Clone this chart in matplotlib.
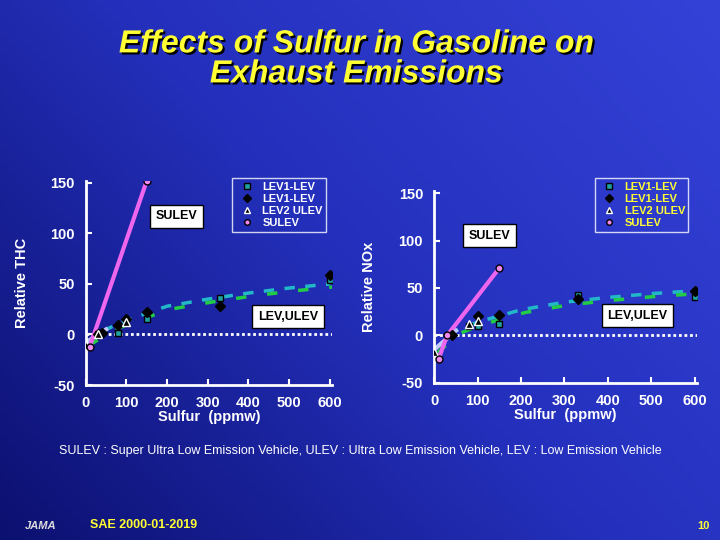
import numpy as np
import matplotlib
matplotlib.use("Agg")
import matplotlib.pyplot as plt
from matplotlib.colors import LinearSegmentedColormap
import matplotlib.patheffects as pe

plt.rcParams['font.family'] = ['Liberation Sans', 'DejaVu Sans']
plt.rcParams['axes.unicode_minus'] = False

# ---- data ----
# Relative THC
thc_sq_x = [30, 80, 150, 330, 600]
thc_sq_y = [0, 1, 15, 36, 54]
thc_dm_x = [30, 40, 80, 100, 150, 330, 600]
thc_dm_y = [0, 1, 9, 15, 22, 28, 59]
thc_tr_x = [0, 30, 100]
thc_tr_y = [-10, 0, 12]
thc_su_x = [10, 150]
thc_su_y = [-12, 152]
thc_trend_x = [0, 50, 100, 200, 300, 400, 500, 600]
thc_trend_y = [-8, 5, 14, 28, 35, 41, 46, 50]

# Relative NOx
nox_sq_x = [80, 100, 150, 330, 600]
nox_sq_y = [10, 10, 12, 43, 41]
nox_dm_x = [40, 100, 150, 330, 600]
nox_dm_y = [0, 20, 21, 38, 47]
nox_tr_x = [0, 80, 100]
nox_tr_y = [-17, 12, 15]
nox_su_x = [10, 30, 150]
nox_su_y = [-25, 0, 71]
nox_trend_x = [0, 50, 100, 200, 300, 400, 500, 600]
nox_trend_y = [-15, 5, 14, 27, 35, 40, 44, 47]

xticks = [0, 100, 200, 300, 400, 500, 600]
yticks = [-50, 0, 50, 100, 150]
legend_labels = ["LEV1-LEV", "LEV1-LEV", "LEV2 ULEV", "SULEV"]

fig = plt.figure(figsize=(7.2, 5.4), dpi=100)

# gradient background
bg = fig.add_axes([0, 0, 1, 1], zorder=-10)
cmap = LinearSegmentedColormap.from_list("bg", ["#0c1070", "#2430bc", "#3442d8"])
yy, xx = np.mgrid[0:1:200j, 0:1:200j]
bg.imshow(0.6 * xx + 0.4 * (1 - yy), cmap=cmap, aspect="auto", extent=[0, 1, 0, 1])
bg.axis("off")

title_fx = [pe.withSimplePatchShadow(offset=(1.5, -1.5), shadow_rgbFace="black", alpha=1)]
fig.text(0.495, 0.89, "Effects of Sulfur in Gasoline on\nExhaust Emissions", ha="center", va="center",
         color="#ffff33", fontsize=23, fontweight="bold", style="italic", linespacing=1.0,
         path_effects=title_fx)


def draw_panel(rect, ylabel, sq, dm, tr, su, trend, leg_color, leg_anchor, sulev_pos, lev_pos, ylab_x):
    ax = fig.add_axes(rect)
    ax.set_facecolor("none")
    for s in ["top", "right"]:
        ax.spines[s].set_visible(False)
    for s in ["left", "bottom"]:
        ax.spines[s].set_color("white")
        ax.spines[s].set_linewidth(2)
    ax.set_xlim(0, 605)
    ax.set_ylim(-50, 152)
    ax.set_xticks(xticks)
    ax.set_yticks(yticks)
    ax.tick_params(colors="white", labelsize=10.5, width=1.5, length=4, direction="in", pad=8)
    for lab in ax.get_xticklabels() + ax.get_yticklabels():
        lab.set_fontweight("bold")
    ax.set_xlabel("Sulfur  (ppmw)", color="white", fontsize=10.5, fontweight="bold", labelpad=0)
    ax.set_ylabel(ylabel, color="white", fontsize=10.5, fontweight="bold")
    ax.yaxis.set_label_coords(ylab_x, 0.5)
    ax.axhline(0, color="white", lw=2, ls=(0, (1, 1)), zorder=1)

    ax.plot(trend[0], trend[1], color="#22b8c8", lw=2.5, ls=(0, (3, 3)), zorder=2)
    ax.plot(np.array(trend[0]) + 8, np.array(trend[1]) - 3, color="#22cc44", lw=2.5, ls=(0, (3, 6)), zorder=2)
    ax.plot(trend[0][:2], trend[1][:2], color="#c0c8ff", lw=3, zorder=2)
    ax.plot(su[0], su[1], color="#ee66ee", lw=3, zorder=3)

    h1, = ax.plot(sq[0], sq[1], "s", color="#20a0a0", mec="black", ms=5, ls="none", zorder=4)
    h2, = ax.plot(dm[0], dm[1], "D", color="black", ms=5, ls="none", zorder=4)
    h3, = ax.plot(tr[0], tr[1], "^", color="black", mec="white", ms=6, ls="none", zorder=4)
    h4, = ax.plot(su[0], su[1], "o", color="#ee88ee", mec="black", ms=5, ls="none", zorder=5)

    leg = fig.legend([h1, h2, h3, h4], legend_labels, loc="upper left", bbox_to_anchor=leg_anchor,
                     frameon=True, fontsize=8, handletextpad=0.4, labelspacing=0.2,
                     borderpad=0.3, markerscale=0.8, fancybox=False)
    leg.get_frame().set_facecolor("none")
    leg.get_frame().set_edgecolor("white")
    for t in leg.get_texts():
        t.set_color(leg_color)
        t.set_fontweight("bold")

    box = dict(facecolor="white", edgecolor="black", pad=4)
    ax.text(*sulev_pos, "SULEV", fontsize=9, fontweight="bold", color="black", bbox=box,
            transform=fig.transFigure, ha="center", va="center")
    ax.text(*lev_pos, "LEV,ULEV", fontsize=9, fontweight="bold", color="black", bbox=box,
            transform=fig.transFigure, ha="center", va="center")
    return ax


draw_panel([0.119, 0.287, 0.342, 0.378], "Relative THC",
           (thc_sq_x, thc_sq_y), (thc_dm_x, thc_dm_y), (thc_tr_x, thc_tr_y), (thc_su_x, thc_su_y),
           (thc_trend_x, thc_trend_y), "white", (0.315, 0.68), (0.245, 0.60), (0.40, 0.413), -0.23)
draw_panel([0.603, 0.291, 0.365, 0.355], "Relative NOx",
           (nox_sq_x, nox_sq_y), (nox_dm_x, nox_dm_y), (nox_tr_x, nox_tr_y), (nox_su_x, nox_su_y),
           (nox_trend_x, nox_trend_y), "#ffff33", (0.818, 0.68), (0.68, 0.563), (0.885, 0.415), -0.22)

fig.text(0.5, 0.165, "SULEV : Super Ultra Low Emission Vehicle, ULEV : Ultra Low Emission Vehicle, LEV : Low Emission Vehicle",
         ha="center", va="center", color="white", fontsize=9)
fig.text(0.035, 0.02, "JAMA", color="#dddddd", fontsize=8, style="italic", fontweight="bold")
fig.text(0.125, 0.022, "SAE 2000-01-2019", color="#ffff33", fontsize=9, fontweight="bold")
fig.text(0.985, 0.02, "10", color="#ffff33", fontsize=8, fontweight="bold", ha="right")

fig.savefig("out.png", dpi=100)
